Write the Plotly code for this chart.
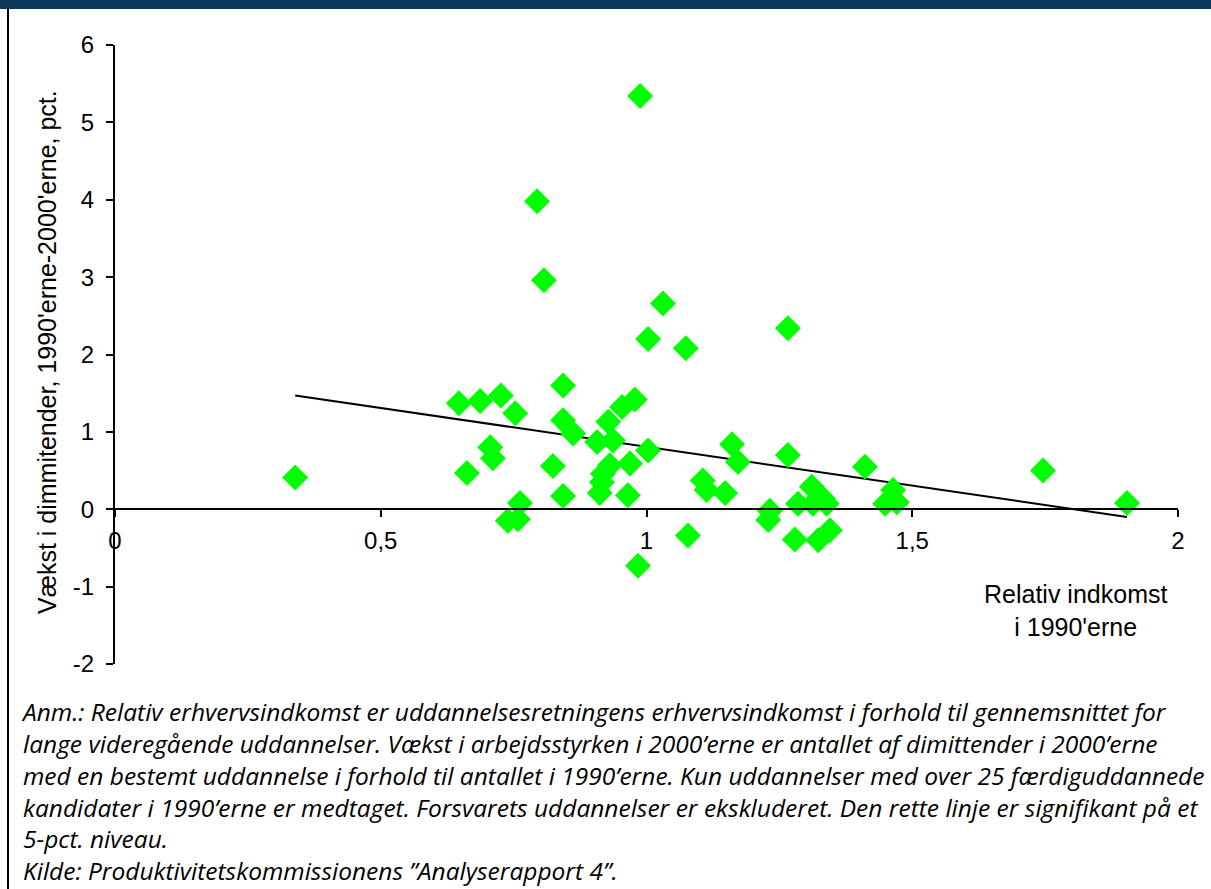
import plotly.graph_objects as go

# Data
rel_income = [0.339, 0.647, 0.687, 0.726, 0.753, 0.706, 0.711, 0.662, 0.843, 0.843,
              0.862, 0.824, 0.843, 0.762, 0.739, 0.758, 0.988, 0.794, 0.807, 1.031,
              1.003, 1.074, 1.266, 0.978, 0.954, 0.928, 0.907, 0.937, 1.003, 0.969,
              0.931, 0.918, 0.916, 0.912, 0.965, 1.161, 1.172, 1.106, 1.113, 1.148,
              1.266, 1.232, 1.229, 1.285, 1.311, 1.313, 1.332, 1.339, 1.411, 1.464,
              1.449, 1.471, 1.078, 0.984, 1.279, 1.345, 1.323, 1.746, 1.904]
growth = [0.41, 1.37, 1.40, 1.47, 1.24, 0.80, 0.66, 0.47, 1.60, 1.15,
          0.98, 0.56, 0.17, 0.08, -0.15, -0.13, 5.34, 3.98, 2.96, 2.66,
          2.20, 2.08, 2.34, 1.42, 1.32, 1.13, 0.87, 0.89, 0.76, 0.59,
          0.57, 0.46, 0.35, 0.21, 0.18, 0.84, 0.61, 0.37, 0.25, 0.21,
          0.70, -0.02, -0.14, 0.07, 0.29, 0.07, 0.14, 0.07, 0.55, 0.25,
          0.07, 0.09, -0.34, -0.73, -0.39, -0.27, -0.40, 0.50, 0.08]

trend_x = [0.339, 1.904]
trend_y = [1.47, -0.10]

x_tickvals = [0, 0.5, 1, 1.5, 2]
x_ticktext = ["0", "0,5", "1", "1,5", "2"]
y_tickvals = [-2, -1, 0, 1, 2, 3, 4, 5, 6]
y_ticktext = ["-2", "-1", "0", "1", "2", "3", "4", "5", "6"]

y_title = "Vækst i dimmitender, 1990'erne-2000'erne, pct."
x_title = "Relativ indkomst<br>i 1990'erne"
notes = [
    "Anm.: Relativ erhvervsindkomst er uddannelsesretningens erhvervsindkomst i forhold til gennemsnittet for",
    "lange videregående uddannelser. Vækst i arbejdsstyrken i 2000’erne er antallet af dimittender i 2000’erne",
    "med en bestemt uddannelse i forhold til antallet i 1990’erne. Kun uddannelser med over 25 færdiguddannede",
    "kandidater i 1990’erne er medtaget. Forsvarets uddannelser er ekskluderet. Den rette linje er signifikant på et",
    "5-pct. niveau.",
    "Kilde: Produktivitetskommissionens ”Analyserapport 4”.",
]

W, H = 1211, 889
L, R, T, B = 115, 33, 45, 225
pw, ph = W - L - R, H - T - B


def px_x(p):
    return (p - L) / pw


def px_y(p):
    return (H - B - p) / ph


fig = go.Figure()
fig.add_trace(go.Scatter(x=trend_x, y=trend_y, mode="lines",
                         line=dict(color="black", width=2), hoverinfo="skip"))
fig.add_trace(go.Scatter(x=rel_income, y=growth, mode="markers",
                         marker=dict(symbol="diamond", size=20, color="#00ff00",
                                     line=dict(width=0))))

tick_font = dict(family="Liberation Sans, Arial, sans-serif", size=24, color="black")
title_font = dict(family="Liberation Sans, Arial, sans-serif", size=25, color="black")

fig.update_layout(
    width=W, height=H,
    margin=dict(l=L, r=R, t=T, b=B),
    paper_bgcolor="white", plot_bgcolor="white",
    showlegend=False,
    xaxis=dict(range=[0, 2], tickvals=x_tickvals, ticktext=x_ticktext,
               showgrid=False, zeroline=False, showline=True, linecolor="black",
               linewidth=2, ticks="outside", ticklen=7, tickwidth=2, tickcolor="black",
               anchor="free", position=0.25, tickfont=tick_font, ticklabelstandoff=3),
    yaxis=dict(range=[-2, 6], tickvals=y_tickvals, ticktext=y_ticktext,
               showgrid=False, zeroline=False, showline=True, linecolor="black",
               linewidth=2, ticks="outside", ticklen=7, tickwidth=2, tickcolor="black",
               tickfont=tick_font, ticklabelstandoff=7),
)

shapes = [
    dict(type="rect", xref="paper", yref="paper", x0=px_x(-2), x1=px_x(W + 2),
         y0=px_y(9), y1=px_y(-2), fillcolor="#0b3a5e", line=dict(width=0), layer="above"),
    dict(type="line", xref="paper", yref="paper", x0=px_x(8), x1=px_x(8),
         y0=px_y(8), y1=px_y(H + 2), line=dict(color="black", width=2)),
]
fig.update_layout(shapes=shapes)

fig.add_annotation(xref="paper", yref="paper", x=px_x(47), y=px_y(352),
                   text=y_title, textangle=-90, showarrow=False,
                   xanchor="center", yanchor="middle", font=title_font)
fig.add_annotation(xref="paper", yref="paper", x=px_x(1075), y=px_y(610),
                   text=x_title, showarrow=False, align="center",
                   xanchor="center", yanchor="middle", font=title_font)

fig.add_annotation(xref="paper", yref="paper", x=px_x(20), y=px_y(694),
                   text="<i>" + "<br>".join(notes) + "</i>", showarrow=False,
                   xanchor="left", yanchor="top", align="left", borderpad=0,
                   font=dict(family="Open Sans, Lato, sans-serif", size=24.5, color="black"))

fig.write_html("out.html", config={"displayModeBar": False},
               post_script="document.body.style.margin='0px';document.body.style.overflow='hidden';")
